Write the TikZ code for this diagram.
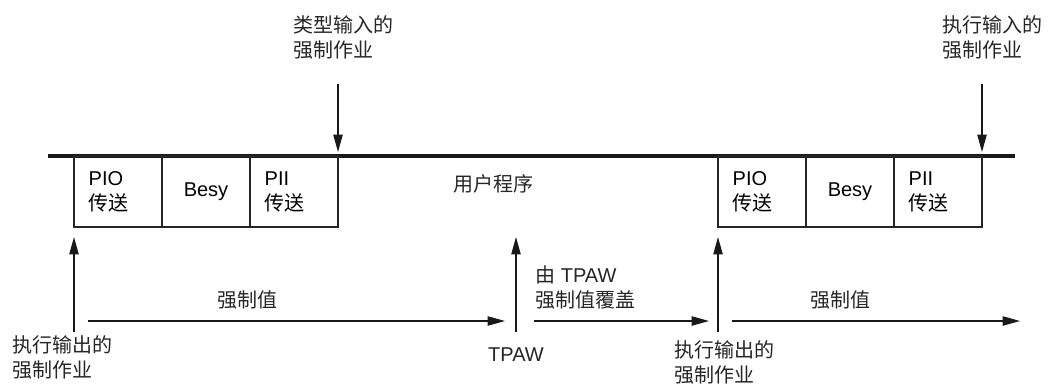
\documentclass[tikz,border=0pt]{standalone}
\usepackage{fontspec}
\setmainfont{Liberation Sans}
\newfontfamily\cjk{Noto Sans CJK SC}
\usepackage{xcolor}
\usepackage{tikz}
\usetikzlibrary{arrows.meta, positioning}

\begin{document}
\begin{tikzpicture}[
    x=0.75pt, y=-0.75pt,
    font=\fontsize{15}{18.75}\selectfont,
    phase/.style={rectangle, draw=black!85, line width=1.3pt, minimum width=66pt, minimum height=53.25pt, inner sep=0pt, outer sep=0pt},
    phaseL/.style={phase, text width=44pt, inner xsep=11pt, align=left},
    label/.style={inner sep=0pt, align=left, text=black!85},
    timeline/.style={line width=2.4pt, draw=black!90},
    arrow/.style={-{Triangle[length=13pt, width=7pt]}, line width=0.9pt, draw=black!90}
]
\useasboundingbox (0,0) rectangle (1055,387);

% time axis
\coordinate (tl) at (48,156);
\coordinate (tr) at (1015,156);
\draw[timeline] (tl) -- (tr);

% first cycle
\node[phaseL, anchor=north west] (pio1) at (74,156) {PIO\\{\cjk 传送}};
\node[phase, right=0pt of pio1] (besy1) {Besy};
\node[phaseL, right=0pt of besy1] (pii1) {PII\\{\cjk 传送}};

% second cycle
\node[phaseL, anchor=north west] (pio2) at (718,156) {PIO\\{\cjk 传送}};
\node[phase, right=0pt of pio2] (besy2) {Besy};
\node[phaseL, right=0pt of besy2] (pii2) {PII\\{\cjk 传送}};

\node[label] (prog) at (493,184) {\cjk 用户程序};

% force jobs from above
\node[label, anchor=west] (injob1) at (293,37.5) {{\cjk 类型输入的}\\{\cjk 强制作业}};
\node[label, anchor=west] (injob2) at (942,37.5) {{\cjk 执行输入的}\\{\cjk 强制作业}};
\coordinate (in1) at (338,84);
\coordinate (in2) at (982,84);
\draw[arrow, shorten >=3pt] (in1) -- (pii1.north east);
\draw[arrow, shorten >=3pt] (in2) -- (pii2.north east);

% force jobs from below
\node[label, anchor=west] (outjob1) at (12,357) {{\cjk 执行输出的}\\{\cjk 强制作业}};
\node[label, anchor=west] (outjob2) at (674,362) {{\cjk 执行输出的}\\{\cjk 强制作业}};
\node[label] (tpaw) at (516,355) {TPAW};
\coordinate (out1) at (74,332);
\coordinate (out2) at (718,332);
\coordinate (tp) at (516,332);
\coordinate (tptop) at (516,237);
\draw[arrow, shorten >=7.5pt] (out1) -- (pio1.south west);
\draw[arrow, shorten >=7.5pt] (out2) -- (pio2.south west);
\draw[arrow] (tp) -- (tptop);

% value spans
\coordinate (v1a) at (88,321);
\coordinate (v1b) at (505,321);
\coordinate (v2a) at (534,321);
\coordinate (v2b) at (709,321);
\coordinate (v3a) at (732,321);
\coordinate (v3b) at (1020,321);
\draw[arrow] (v1a) -- (v1b);
\draw[arrow] (v2a) -- (v2b);
\draw[arrow] (v3a) -- (v3b);
\node[label] (val1) at (247,300) {\cjk 强制值};
\node[label, anchor=west] (val2) at (535,287.5) {{\cjk 由} TPAW\\{\cjk 强制值覆盖}};
\node[label] (val3) at (840,300) {\cjk 强制值};

\end{tikzpicture}
\end{document}
